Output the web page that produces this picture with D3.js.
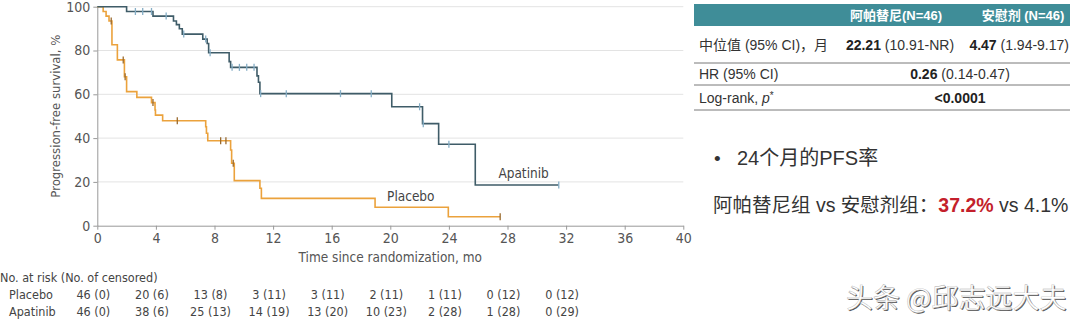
<!DOCTYPE html>
<html lang="zh">
<head>
<meta charset="UTF-8">
<title>PFS Kaplan-Meier</title>
<script src="https://d3js.org/d3.v7.min.js"></script>
<style>
  body { margin: 0; background: #fff; }
  svg { display: block; }
  .axis text { font-family: "Liberation Sans Narrow", "DejaVu Sans Condensed", "Liberation Sans", sans-serif; font-size: 14px; fill: #555; }
  .axis path, .axis line { stroke: #999; }
  .cond { font-family: "Liberation Sans Narrow", "DejaVu Sans Condensed", "Liberation Sans", sans-serif; fill: #444; }
  .cn { font-family: "Liberation Sans", "Noto Sans CJK SC", sans-serif; fill: #333; }
</style>
</head>
<body>
<div id="chart"></div>
<script>
// Kaplan-Meier steps: [month, PFS %]
const apatinibSteps = [[0,100],[2.0,97.8],[3.8,95.7],[5.2,93.5],[5.4,91.8],[5.6,89.9],[5.8,87.5],[7.2,85.2],[7.5,83.2],[7.6,79.0],[9.0,74.9],[9.1,72.3],[10.9,68.4],[11.0,65.5],[11.1,60.3],[20.1,54.3],[22.2,46.6],[23.3,37.2],[25.8,18.6]];
const apatinibEnd = 31.5;
const apatinibCensor = [2.6,3.1,3.7,4.7,5.9,7.4,7.7,9.2,9.7,10.2,10.7,11.15,12.9,16.6,18.7,22.0,22.25,24.0,31.5];

const placeboSteps = [[0,100],[0.4,97.8],[0.6,95.7],[0.8,93.5],[1.0,82.6],[1.37,75.7],[1.85,68.0],[2.0,61.2],[2.7,58.6],[3.7,56.2],[3.94,52.8],[3.97,50.5],[4.46,47.9],[7.4,45.2],[7.45,42.2],[7.54,38.8],[9.1,34.6],[9.17,28.5],[9.35,20.6],[11.1,17.1],[11.2,12.5],[18.96,8.4],[23.96,4.1]];
const placeboEnd = 27.5;
const placeboCensor = [0.95,1.77,1.9,3.8,5.46,8.42,8.78,9.28,27.5];

const xTicks = [0,4,8,12,16,20,24,28,32,36,40];
const yTicks = [0,20,40,60,80,100];

// number at risk (number censored) at each 4-month tick
const riskTimes = [0,4,8,12,16,20,24,28,32];
const placeboRisk = [46,20,13,3,3,2,1,0,0];
const placeboCens = [0,6,8,11,11,11,11,12,12];
const apatinibRisk = [46,38,25,14,13,10,2,1,0];
const apatinibCens = [0,6,13,19,20,23,28,28,29];

// summary table
const tableHead = ["阿帕替尼(N=46)", "安慰剂 (N=46)"];
const medianRow = ["中位值 (95% CI)，月", ["22.21", " (10.91-NR)"], ["4.47", " (1.94-9.17)"]];
const hrRow = ["HR (95% CI)", ["0.26", " (0.14-0.47)"]];
const pRow = ["Log-rank, ", "<0.0001"];

const W = 1080, H = 324;
const svg = d3.select("#chart").append("svg").attr("width", W).attr("height", H);

const x = d3.scaleLinear().domain([0, 40]).range([97.3, 683.3]);
const y = d3.scaleLinear().domain([0, 100]).range([225.7, 6.7]);

// grid
svg.append("g").selectAll("line").data(yTicks.filter(d => d > 0)).join("line")
  .attr("x1", x(0)).attr("x2", x(40))
  .attr("y1", d => y(d)).attr("y2", d => y(d))
  .attr("stroke", "#e3e3e3").attr("stroke-width", 1);

const gx = svg.append("g").attr("class", "axis").attr("transform", `translate(0,${y(0)})`)
  .call(d3.axisBottom(x).tickValues(xTicks).tickSize(4).tickPadding(3).tickSizeOuter(0));
gx.select(".domain").attr("stroke", "#999");

const gy = svg.append("g").attr("class", "axis").attr("transform", `translate(${x(0)},0)`)
  .call(d3.axisLeft(y).tickValues(yTicks).tickSize(4).tickPadding(3).tickSizeOuter(0));

svg.append("text").attr("class", "cond")
  .attr("transform", `translate(60,${y(50)}) rotate(-90)`)
  .attr("text-anchor", "middle").attr("font-size", 13).style("fill", "#555")
  .text("Progression-free survival, %");

svg.append("text").attr("class", "cond")
  .attr("x", x(20)).attr("y", 262).attr("text-anchor", "middle")
  .attr("font-size", 13.5).style("fill", "#555")
  .text("Time since randomization, mo");

// curves
const line = d3.line().x(d => x(d[0])).y(d => y(d[1])).curve(d3.curveStepAfter);
function drawArm(steps, end, censor, color, censorColor) {
  const pts = steps.concat([[end, steps[steps.length - 1][1]]]);
  svg.append("path").datum(pts).attr("d", line)
    .attr("fill", "none").attr("stroke", color).attr("stroke-width", 1.6);
  const valueAt = t => {
    const i = d3.bisectRight(steps.map(s => s[0]), t) - 1;
    return steps[Math.max(0, i)][1];
  };
  svg.append("g").selectAll("line").data(censor).join("line")
    .attr("x1", d => x(d)).attr("x2", d => x(d))
    .attr("y1", d => y(valueAt(d)) - 3.5).attr("y2", d => y(valueAt(d)) + 3.5)
    .attr("stroke", censorColor).attr("stroke-width", 1.3);
}
drawArm(placeboSteps, placeboEnd, placeboCensor, "#eba23c", "#9a6a2e");
drawArm(apatinibSteps, apatinibEnd, apatinibCensor, "#3f5c68", "#86aec6");

svg.append("text").attr("class", "cond").attr("x", x(29.1)).attr("y", 178)
  .attr("text-anchor", "middle").attr("font-size", 13.5).style("fill", "#444").text("Apatinib");
svg.append("text").attr("class", "cond").attr("x", x(21.4)).attr("y", 201)
  .attr("text-anchor", "middle").attr("font-size", 13.5).style("fill", "#444").text("Placebo");

// number at risk
svg.append("text").attr("class", "cond").attr("x", 0).attr("y", 282)
  .attr("font-size", 12.5).text("No. at risk (No. of censored)");
[["Placebo", placeboRisk, placeboCens, 299], ["Apatinib", apatinibRisk, apatinibCens, 316]].forEach(([name, risk, cens, yy]) => {
  svg.append("text").attr("class", "cond").attr("x", 9).attr("y", yy)
    .attr("font-size", 12.5).text(name);
  svg.append("g").selectAll("text").data(riskTimes).join("text")
    .attr("class", "cond").attr("font-size", 12.5)
    .attr("x", (d, i) => x(d) - 4).attr("y", yy).attr("text-anchor", "middle")
    .text((d, i) => `${risk[i]} (${cens[i]})`);
});

// summary table
const tx0 = 694, tx1 = 1070;
svg.append("rect").attr("x", tx0).attr("y", 4).attr("width", tx1 - tx0).attr("height", 22).attr("fill", "#3f8d98");
const headX = [896, 1023];
tableHead.forEach((t, i) => {
  svg.append("text").attr("class", "cn").attr("x", headX[i]).attr("y", 20)
    .attr("text-anchor", "middle").attr("font-size", 13).attr("font-weight", "bold")
    .style("fill", "#fff").text(t);
});
[63, 85, 110].forEach(ly => {
  svg.append("line").attr("x1", tx0).attr("x2", tx1).attr("y1", ly).attr("y2", ly)
    .attr("stroke", "#555").attr("stroke-width", 0.8);
});
function boldPair(xc, yy, pair, anchor) {
  const t = svg.append("text").attr("class", "cn").attr("x", xc).attr("y", yy)
    .attr("text-anchor", anchor).attr("font-size", 14);
  t.append("tspan").attr("font-weight", "bold").style("fill", "#222").text(pair[0]);
  if (pair[1]) t.append("tspan").text(pair[1]);
}
svg.append("text").attr("class", "cn").attr("x", 699).attr("y", 50).attr("font-size", 14).text(medianRow[0]);
boldPair(900, 50, medianRow[1], "middle");
boldPair(1069, 50, medianRow[2], "end");
svg.append("text").attr("class", "cn").attr("x", 699).attr("y", 79).attr("font-size", 14).text(hrRow[0]);
boldPair(960, 79, hrRow[1], "middle");
const pt = svg.append("text").attr("class", "cn").attr("x", 699).attr("y", 103).attr("font-size", 14);
pt.append("tspan").text(pRow[0]);
pt.append("tspan").attr("font-style", "italic").text("p");
pt.append("tspan").attr("font-size", 10).attr("dy", -4).text("*");
boldPair(960, 103, [pRow[1]], "middle");

// 24-month PFS rate
svg.append("text").attr("class", "cn").attr("x", 714).attr("y", 165).attr("font-size", 19).text("•");
svg.append("text").attr("class", "cn").attr("x", 737).attr("y", 165).attr("font-size", 20).text("24个月的PFS率");
const rt = svg.append("text").attr("class", "cn").attr("x", 713).attr("y", 212).attr("font-size", 19.5);
rt.append("tspan").text("阿帕替尼组 vs 安慰剂组：");
rt.append("tspan").attr("font-weight", "bold").style("fill", "#c41f2c").text("37.2%");
rt.append("tspan").text(" vs 4.1%");

// watermark
const wm = svg.append("g").attr("font-family", "Noto Sans CJK SC, sans-serif").attr("font-size", 27);
wm.append("text").attr("x", 847).attr("y", 309).attr("fill", "#555").text("头条 @邱志远大夫");
wm.append("text").attr("x", 846).attr("y", 308).attr("fill", "#fff")
  .attr("stroke", "#aaa").attr("stroke-width", 0.4).text("头条 @邱志远大夫");
</script>
</body>
</html>
